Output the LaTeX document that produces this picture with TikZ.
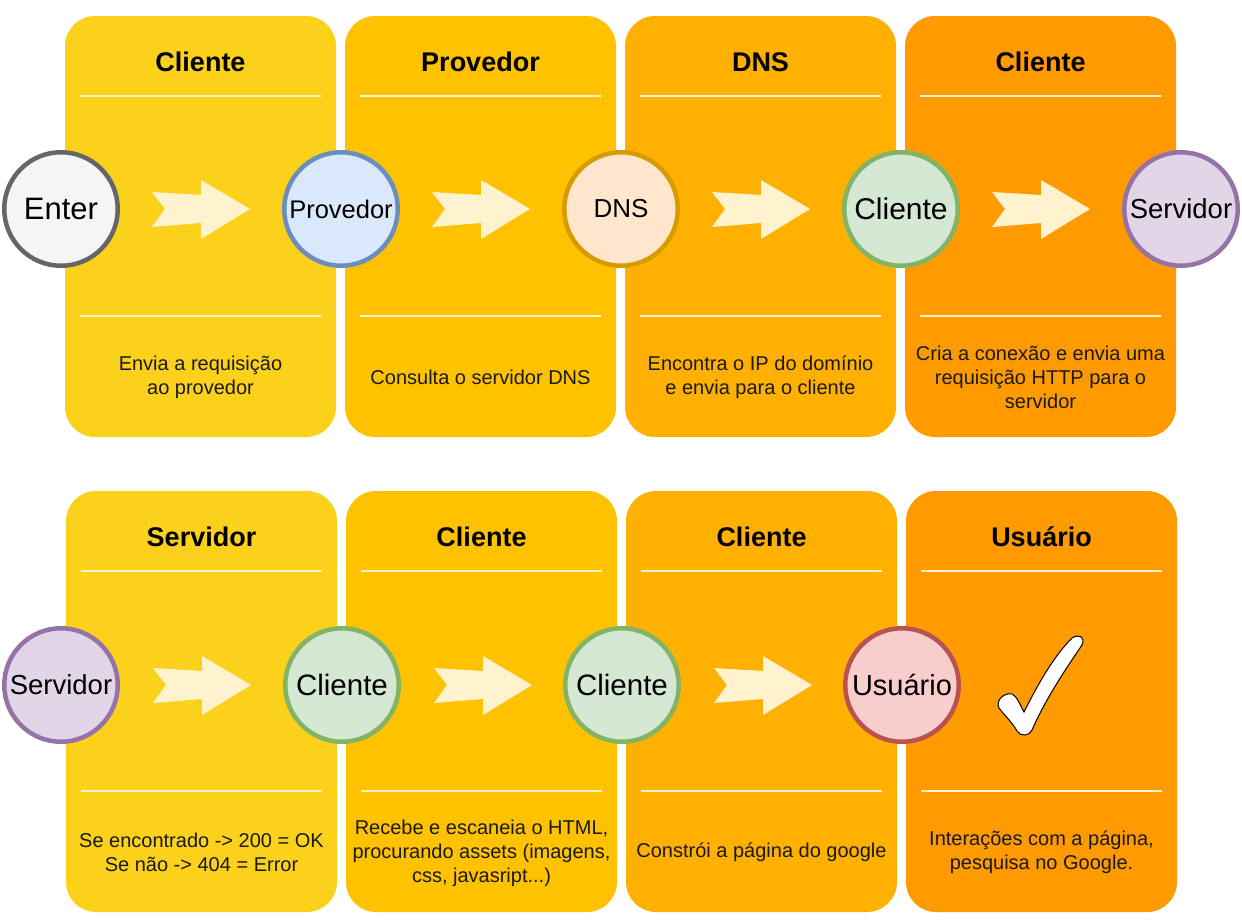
\documentclass[tikz,border=0pt]{standalone}
\usepackage{fontspec}
\setmainfont{Liberation Sans}
\usetikzlibrary{calc}
\definecolor{panA}{HTML}{FCD11C}
\definecolor{panB}{HTML}{FEC200}
\definecolor{panC}{HTML}{FFB000}
\definecolor{panD}{HTML}{FF9A00}
\definecolor{sepline}{HTML}{FFF2CC}
\definecolor{arrowfill}{HTML}{FFF3CF}
\definecolor{bodytext}{HTML}{1A1A1A}
\definecolor{grayF}{HTML}{F5F5F5}\definecolor{grayS}{HTML}{666666}
\definecolor{blueF}{HTML}{DAE8FC}\definecolor{blueS}{HTML}{6C8EBF}
\definecolor{orangeF}{HTML}{FFE6CC}\definecolor{orangeS}{HTML}{D79B00}
\definecolor{greenF}{HTML}{D5E8D4}\definecolor{greenS}{HTML}{82B366}
\definecolor{purpleF}{HTML}{E1D5E7}\definecolor{purpleS}{HTML}{9673A6}
\definecolor{redF}{HTML}{F8CECC}\definecolor{redS}{HTML}{B85450}
\tikzset{
  panel/.style={rounded corners=30pt, minimum width=271pt, minimum height=421pt, inner sep=0pt, draw=none},
  header/.style={font=\fontsize{27}{32}\selectfont\bfseries, text=black},
  body/.style={font=\fontsize{20}{24}\selectfont, text=bodytext, align=center},
  sep/.style={draw=sepline, line width=2pt},
  station/.style={circle, minimum size=113.5pt, inner sep=0pt, line width=4.5pt},
  barrow/.pic={\fill[arrowfill] (2,-17) -- (15,0) -- (2,18) -- (51,14) -- (51,30) -- (100,0) -- (51,-29) -- (51,-14) -- cycle;}
}
\begin{document}
\begin{tikzpicture}[x=1pt,y=-1pt]
\useasboundingbox[fill=white] (0,0) rectangle (1242,921);
% panels top row
\node[panel, fill=panA] (p1) at (200.5,226.5) {};
\node[panel, fill=panB] (p2) at (480.5,226.5) {};
\node[panel, fill=panC] (p3) at (760.5,226.5) {};
\node[panel, fill=panD] (p4) at (1040.5,226.5) {};
% panels bottom row
\node[panel, fill=panA] (p5) at (201.5,701.5) {};
\node[panel, fill=panB] (p6) at (481.5,701.5) {};
\node[panel, fill=panC] (p7) at (761.5,701.5) {};
\node[panel, fill=panD] (p8) at (1041.5,701.5) {};
% separator lines
\foreach \cx/\y in {200.5/96,480.5/96,760.5/96,1040.5/96,201.5/571,481.5/571,761.5/571,1041.5/571}{
  \draw[sep] (\cx-120.5,\y) -- (\cx+120,\y);
  \draw[sep] (\cx-120.5,\y+220) -- (\cx+120,\y+220);
}
% headers
\node[header] (h1) at (200.5,62) {Cliente};
\node[header] (h2) at (480.5,62) {Provedor};
\node[header] (h3) at (760.5,62) {DNS};
\node[header] (h4) at (1040.5,62) {Cliente};
\node[header] (h5) at (201.5,537) {Servidor};
\node[header] (h6) at (481.5,537) {Cliente};
\node[header] (h7) at (761.5,537) {Cliente};
\node[header] (h8) at (1041.5,537) {Usuário};
% body texts
\node[body] (t1) at (200.5,377) {Envia a requisição\\ao provedor};
\node[body] (t2) at (480.5,377) {Consulta o servidor DNS};
\node[body] (t3) at (760.5,377) {Encontra o IP do domínio\\e envia para o cliente};
\node[body] (t4) at (1040.5,377) {Cria a conexão e envia uma\\requisição HTTP para o\\servidor};
\node[body] (t5) at (201.5,852) {Se encontrado -> 200 = OK\\Se não -> 404 = Error};
\node[body] (t6) at (481.5,853) {Recebe e escaneia o HTML,\\procurando assets (imagens,\\css, javasript...)};
\node[body] (t7) at (761.5,852) {Constrói a página do google};
\node[body] (t8) at (1041.5,852) {Interações com a página,\\pesquisa no Google.};
% stations
\node[station, fill=grayF, draw=grayS, font=\fontsize{31}{36}\selectfont] (c1) at (61,209) {Enter};
\node[station, fill=blueF, draw=blueS, font=\fontsize{25.5}{30}\selectfont] (c2) at (341,209) {Provedor};
\node[station, fill=orangeF, draw=orangeS, font=\fontsize{26}{30}\selectfont] (c3) at (621,209) {DNS};
\node[station, fill=greenF, draw=greenS, font=\fontsize{30}{34}\selectfont] (c4) at (901,209) {Cliente};
\node[station, fill=purpleF, draw=purpleS, font=\fontsize{27.5}{32}\selectfont] (c5) at (1181,209) {Servidor};
\node[station, fill=purpleF, draw=purpleS, font=\fontsize{27.5}{32}\selectfont] (c6) at (61,685) {Servidor};
\node[station, fill=greenF, draw=greenS, font=\fontsize{29.5}{34}\selectfont] (c7) at (342,685) {Cliente};
\node[station, fill=greenF, draw=greenS, font=\fontsize{29.5}{34}\selectfont] (c8) at (622,685) {Cliente};
\node[station, fill=redF, draw=redS, font=\fontsize{29}{34}\selectfont] (c9) at (902,685) {Usuário};
% block arrows between stations
\foreach \a in {c1,c2,c3,c4}{ \pic at ($(\a.center)+(89,0)$) {barrow}; }
\foreach \a in {c6,c7,c8}{ \pic at ($(\a.center)+(90,0)$) {barrow}; }
% checkmark
\draw[fill=white, draw=black, line width=1pt]
  (999,708) .. controls (995,700) and (1005,692) .. (1012,694)
  .. controls (1017,696) and (1020,705) .. (1024,712)
  .. controls (1040,680) and (1055,655) .. (1072,638)
  .. controls (1078,634) and (1086,636) .. (1082,645)
  .. controls (1065,670) and (1045,700) .. (1032,730)
  .. controls (1030,736) and (1020,737) .. (1017,731)
  .. controls (1012,722) and (1005,716) .. cycle;
\end{tikzpicture}
\end{document}
